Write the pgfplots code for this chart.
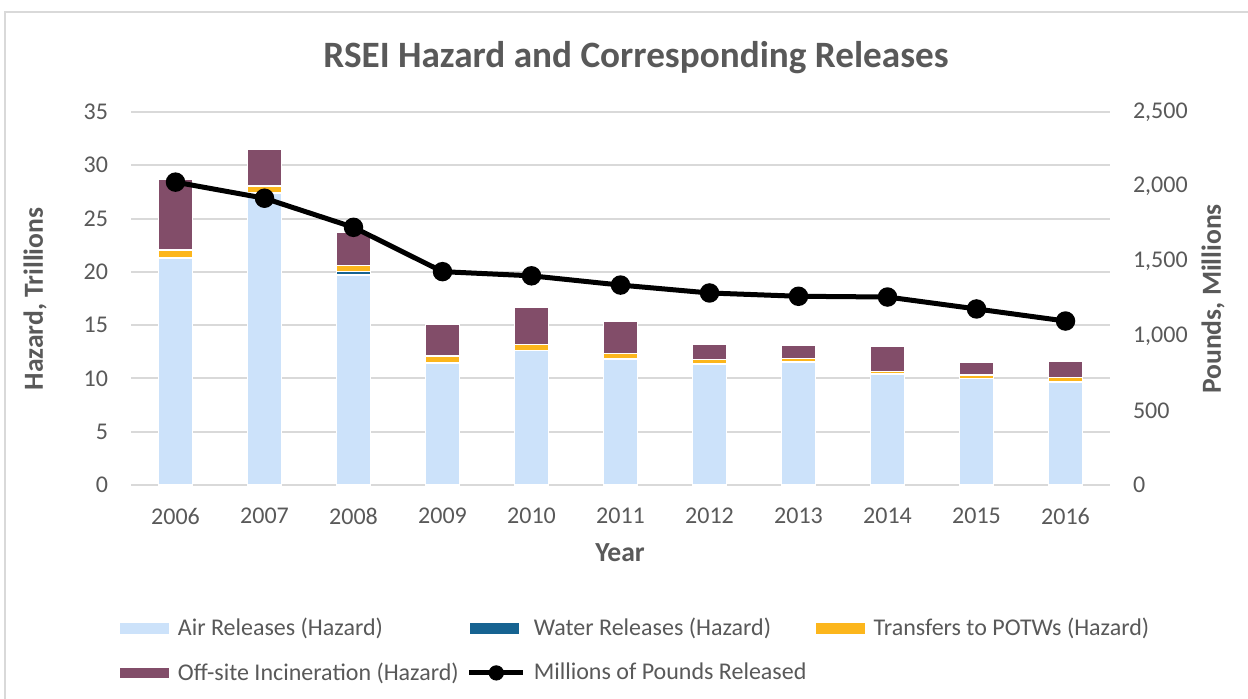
\documentclass[border=0pt]{standalone}
\usepackage{fontspec}
\setmainfont{Carlito}
\usepackage{pgfplots}
\usepackage{pgfplotstable}
\pgfplotsset{compat=1.18}
\definecolor{airc}{RGB}{204,226,250}
\definecolor{waterc}{RGB}{22,99,145}
\definecolor{potwc}{RGB}{252,182,28}
\definecolor{incc}{RGB}{130,77,105}
\definecolor{txt}{RGB}{89,89,89}
\definecolor{gridc}{RGB}{217,217,217}
\pgfplotstableread{
x air water potw inc
0 21.3 0.05 0.7 6.6
1 27.4 0.05 0.6 3.4
2 19.7 0.32 0.55 3.1
3 11.4 0.1 0.6 3.0
4 12.6 0.05 0.55 3.5
5 11.8 0.05 0.5 3.0
6 11.3 0.05 0.45 1.4
7 11.5 0.05 0.35 1.2
8 10.4 0.03 0.25 2.35
9 10.0 0.03 0.3 1.15
10 9.65 0.03 0.4 1.5
}\hazard
\pgfplotstableread{
x lbs
0 2030
1 1922
2 1727
3 1430
4 1402
5 1340
6 1287
7 1265
8 1260
9 1180
10 1099
}\pounds
\begin{document}
\begin{tikzpicture}
\useasboundingbox (0pt,0pt) rectangle (624pt,349pt);
\fill[white] (0pt,0pt) rectangle (624pt,349pt);
\draw[gridc, line width=0.75pt] (2.5pt,-5pt) rectangle (630pt,343pt);
\node[font=\fontsize{18.6}{22}\selectfont\bfseries, text=txt] at (318pt,320pt) {RSEI Hazard and Corresponding Releases};
\node[font=\fontsize{13.8}{16}\selectfont\bfseries, text=txt, rotate=90] at (17.5pt,199.5pt) {Hazard, Trillions};
\node[font=\fontsize{13.8}{16}\selectfont\bfseries, text=txt, rotate=90] at (606.5pt,199.5pt) {Pounds, Millions};
\node[font=\fontsize{13.8}{16}\selectfont\bfseries, text=txt] at (310pt,72.5pt) {Year};
\begin{axis}[
  at={(65.5pt,106.5pt)}, anchor=south west,
  scale only axis, width=489.5pt, height=186.5pt,
  ybar stacked, bar width=17pt,
  xmin=-0.5, xmax=10.5, ymin=0, ymax=35,
  ytick={0,5,...,35},
  xtick={0,...,10},
  xticklabels={2006,2007,2008,2009,2010,2011,2012,2013,2014,2015,2016},
  axis line style={draw=none},
  major tick length=0pt,
  ymajorgrids, grid style={gridc, line width=1pt},
  tick label style={font=\fontsize{12}{14}\selectfont, text=txt},
  /pgf/number format/assume math mode=true,
  xticklabel style={yshift=-8pt},
  yticklabel style={xshift=-8pt},
  legend columns=3,
  legend cell align=left,
  legend style={at={(-0.013,-0.345)}, anchor=north west, draw=none, fill=none,
    font=\fontsize{12}{14}\selectfont, text=txt,
    /tikz/every odd column/.append style={column sep=2pt},
    /tikz/every even column/.append style={column sep=2pt},
    row sep=8pt, inner sep=0pt},
  area legend,
  legend image code/.code={\fill[#1] (0pt,-3pt) rectangle (25pt,3pt);},
]
\addplot[fill=airc, draw=white, line width=0.6pt] table[x=x,y=air] {\hazard};
\addlegendentry{Air Releases (Hazard)}
\addplot[fill=waterc, draw=white, line width=0.6pt] table[x=x,y=water] {\hazard};
\addlegendentry{Water Releases (Hazard)}
\addplot[fill=potwc, draw=white, line width=0.6pt] table[x=x,y=potw] {\hazard};
\addlegendentry{Transfers to POTWs (Hazard)}
\addplot[fill=incc, draw=white, line width=0.6pt] table[x=x,y=inc] {\hazard};
\addlegendentry{Off-site Incineration (Hazard)}
\addlegendimage{legend image code/.code={\draw[black, line width=2.5pt] (0pt,0pt) -- (27pt,0pt); \fill[black] (13.5pt,0pt) circle (3.6pt);}}
\addlegendentry{Millions of Pounds Released}
\end{axis}
\begin{axis}[
  at={(65.5pt,106.5pt)}, anchor=south west,
  scale only axis, width=489.5pt, height=186.5pt,
  xmin=-0.5, xmax=10.5, ymin=0, ymax=2500,
  ytick={0,500,...,2500},
  axis x line=none,
  axis y line*=right,
  axis line style={draw=none},
  major tick length=0pt,
  tick label style={font=\fontsize{12}{14}\selectfont, text=txt},
  /pgf/number format/assume math mode=true,
  /pgf/number format/1000 sep={,},
  yticklabel style={anchor=west, xshift=8pt},
]
\addplot[black, line width=2.5pt, mark=*, mark size=3.6pt] table[x=x,y=lbs] {\pounds};
\end{axis}
\end{tikzpicture}
\end{document}
